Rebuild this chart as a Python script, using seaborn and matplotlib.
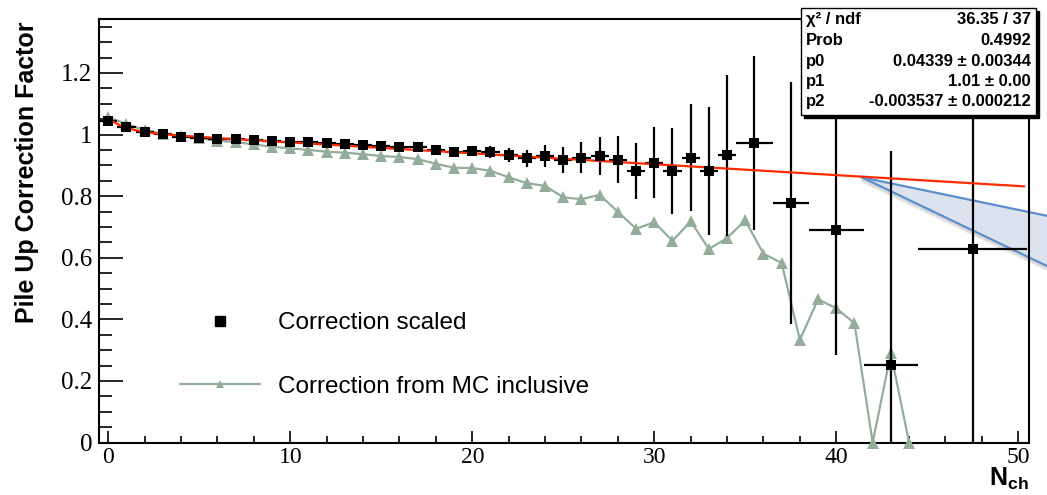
import numpy as np
import pandas as pd
import matplotlib
matplotlib.use("Agg")
import matplotlib.pyplot as plt
import seaborn as sns
from matplotlib.lines import Line2D
from matplotlib.patches import Rectangle
from matplotlib.ticker import MultipleLocator

# ---------------- data ----------------
scaled_x = list(range(35)) + [35.5, 37.5, 40.0, 43.0, 47.5]
scaled_xerr = [0.5] * 35 + [1.0, 1.0, 1.5, 1.5, 3.0]
scaled_y = [1.045, 1.025, 1.007, 1.001, 0.993, 0.990, 0.985, 0.984, 0.982, 0.980,
            0.977, 0.975, 0.971, 0.969, 0.966, 0.963, 0.960, 0.958, 0.950, 0.942,
            0.947, 0.944, 0.933, 0.923, 0.930, 0.916, 0.925, 0.930, 0.918, 0.882,
            0.909, 0.882, 0.925, 0.882, 0.932, 0.972, 0.778, 0.690, 0.252, 0.628]
scaled_yerr = [0.003, 0.003, 0.003, 0.004, 0.004, 0.004, 0.005, 0.005, 0.005, 0.006,
               0.006, 0.006, 0.007, 0.007, 0.008, 0.008, 0.009, 0.010, 0.011, 0.013,
               0.016, 0.020, 0.022, 0.028, 0.035, 0.042, 0.051, 0.063, 0.077, 0.090,
               0.114, 0.139, 0.174, 0.207, 0.260, 0.283, 0.392, 0.406, 0.693, 0.900]

mc_x = list(range(45))
mc_y = [1.056, 1.034, 1.015, 1.002, 0.995, 0.988, 0.980, 0.975, 0.968, 0.960,
        0.955, 0.950, 0.944, 0.941, 0.936, 0.930, 0.927, 0.920, 0.905, 0.892,
        0.891, 0.882, 0.861, 0.842, 0.833, 0.796, 0.790, 0.804, 0.749, 0.694,
        0.715, 0.655, 0.718, 0.628, 0.664, 0.721, 0.613, 0.583, 0.333, 0.465,
        0.436, 0.387, 0.0, 0.290, 0.0]

# fit: p0*exp(-x) + p1 + p2*x
p0, p1, p2 = 0.04339, 1.0096, -0.003537
fit_range = [0.0, 50.33]

band_x = [41.4, 51.58]
band_upper = [0.861, 0.736]
band_lower = [0.861, 0.573]

stats_labels = ["\u03c7\u00b2 / ndf", "Prob", "p0", "p1", "p2"]
stats_values = ["36.35 / 37", "0.4992", "0.04339 \u00b1 0.00344",
                "1.01 \u00b1 0.00", "-0.003537 \u00b1 0.000212"]

# ---------------- style ----------------
sns.set_theme(style="ticks")
plt.rcParams["font.family"] = ["Liberation Sans", "DejaVu Sans"]
plt.rcParams["mathtext.fontset"] = "custom"
plt.rcParams["mathtext.bf"] = "Liberation Sans:bold"
plt.rcParams["mathtext.rm"] = "Liberation Sans"
for k in ["text.color", "axes.labelcolor", "xtick.color", "ytick.color",
          "axes.edgecolor"]:
    plt.rcParams[k] = "black"

W, H = 1047, 495
fig = plt.figure(figsize=(W / 100, H / 100), dpi=100)
fig.patch.set_facecolor("white")
ax_l, ax_r, ax_t, ax_b = 99, 1029, 19, 442.5
ax = fig.add_axes([ax_l / W, 1 - ax_b / H, (ax_r - ax_l) / W, (ax_b - ax_t) / H])
ax.set_facecolor("white")

mc_color = "#94ad9b"
fit_color = "#ff2a00"

df_mc = pd.DataFrame({"x": mc_x, "y": mc_y})
df_sc = pd.DataFrame({"x": scaled_x, "y": scaled_y})

# MC inclusive line with triangles
sns.lineplot(data=df_mc, x="x", y="y", ax=ax, color=mc_color, lw=1.6,
             marker="^", markersize=8.5, markeredgewidth=0, zorder=3,
             clip_on=False, legend=False)

# error bars for scaled correction
ax.errorbar(scaled_x, scaled_y, xerr=scaled_xerr, yerr=scaled_yerr, fmt="none",
            ecolor="black", elinewidth=1.6, capsize=0, zorder=4)

# band (uncertainty extrapolation) with a soft shadow
for off, alpha in [(0.012, 0.10), (0.008, 0.12), (0.004, 0.15)]:
    ax.plot(band_x, [v - off for v in band_lower], color="gray", lw=2.5,
            alpha=alpha, zorder=1.8, clip_on=False, solid_capstyle="butt")
ax.fill_between(band_x, band_lower, band_upper, color="#dce3ee", zorder=2,
                clip_on=False, lw=0)
ax.plot(band_x, band_upper, color="#5b8fcb", lw=1.6, zorder=2.5, clip_on=False)
ax.plot(band_x, band_lower, color="#5b8fcb", lw=1.6, zorder=2.5, clip_on=False)

# fit line
xf = np.linspace(fit_range[0], fit_range[1], 400)
yf = p0 * np.exp(-xf) + p1 + p2 * xf
ax.plot(xf, yf, color=fit_color, lw=1.6, zorder=5)

# squares
sns.scatterplot(data=df_sc, x="x", y="y", ax=ax, color="black", marker="s",
                s=50, linewidth=0, zorder=6, legend=False)

ax.set_xlim(-0.51, 50.59)
ax.set_ylim(0, 1.375)
ax.set_xlabel("")
ax.set_ylabel("")

for sp in ax.spines.values():
    sp.set_linewidth(1.5)
    sp.set_color("black")
    sp.set_visible(True)

ax.xaxis.set_major_locator(MultipleLocator(10))
ax.xaxis.set_minor_locator(MultipleLocator(2))
ax.yaxis.set_major_locator(MultipleLocator(0.2))
ax.yaxis.set_minor_locator(MultipleLocator(0.05))
ax.tick_params(axis="x", which="major", direction="in", length=9, width=1.2,
               pad=3, labelsize=17, top=False, bottom=True, colors="black")
ax.tick_params(axis="x", which="minor", direction="in", length=5, width=1.2,
               top=False, bottom=True, colors="black")
ax.tick_params(axis="y", which="major", direction="in", length=17, width=1.2,
               pad=5, labelsize=18, right=False, left=True, colors="black")
ax.tick_params(axis="y", which="minor", direction="in", length=9.5, width=1.2,
               right=False, left=True, colors="black")
ax.set_yticks([0, 0.2, 0.4, 0.6, 0.8, 1.0, 1.2])
ax.set_yticklabels(["0", "0.2", "0.4", "0.6", "0.8", "1", "1.2"])
for lab in ax.get_xticklabels() + ax.get_yticklabels():
    lab.set_family(["Liberation Serif", "DejaVu Serif"])

# legend
h1 = Line2D([], [], marker="s", color="black", linestyle="none", markersize=7)
h2 = Line2D([], [], marker="^", color=mc_color, lw=1.6, markersize=6,
            markeredgewidth=0)
leg = ax.legend([h1, h2], ["Correction scaled", "Correction from MC inclusive"],
                loc="center left", bbox_to_anchor=(180 / W, 1 - 355 / H),
                bbox_transform=fig.transFigure, frameon=False, fontsize=17.5,
                handlelength=3.3, handletextpad=0.72, labelspacing=1.72,
                borderpad=0, borderaxespad=0)
for t in leg.get_texts():
    t.set_color("black")

# axis titles
fig.text(27 / W, 1 - 172 / H, "Pile Up Correction Factor", rotation=90,
         ha="center", va="center", fontsize=18, fontweight="bold", color="black")
fig.text(1029 / W, 1 - 486 / H, r"$\mathbf{N}_{\mathbf{ch}}$", ha="right",
         va="baseline", fontsize=18, color="black")

# stats box
bx0, bx1, by0, by1 = 800.7, 1036, 8, 115
fig.patches.append(Rectangle(((bx0 + 3) / W, 1 - (by1 + 3) / H), (bx1 - bx0) / W,
                             (by1 - by0) / H, transform=fig.transFigure,
                             facecolor="black", edgecolor="black", zorder=20))
fig.patches.append(Rectangle((bx0 / W, 1 - by1 / H), (bx1 - bx0) / W,
                             (by1 - by0) / H, transform=fig.transFigure,
                             facecolor="white", edgecolor="black", lw=1.0,
                             zorder=21))
row_y = [19.5, 40.5, 61.5, 81.5, 101.5]
for lab, val, yy in zip(stats_labels, stats_values, row_y):
    fig.text(806 / W, 1 - yy / H, lab, ha="left", va="center", fontsize=12,
             fontweight="bold", zorder=22, color="black")
    fig.text(1031 / W, 1 - yy / H, val, ha="right", va="center", fontsize=12,
             fontweight="bold", zorder=22, color="black")

fig.savefig("out.png", dpi=100, facecolor="white")
